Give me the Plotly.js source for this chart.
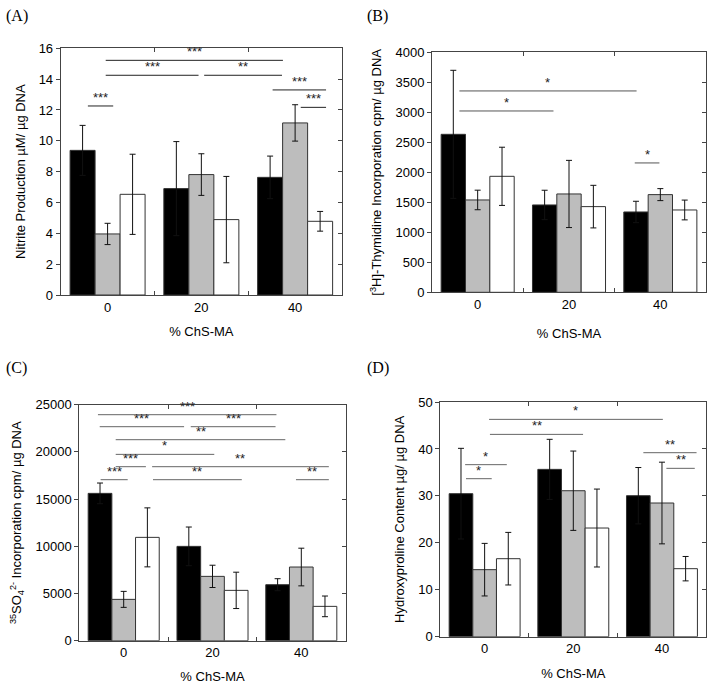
<!DOCTYPE html>
<html>
<head>
<meta charset="utf-8">
<script src="https://cdn.plot.ly/plotly-3.0.1.min.js"></script>
<style>html,body{margin:0;padding:0;background:#fff;}#chart{width:714px;height:684px;}</style>
</head>
<body>
<div id="chart"></div>
<script>
// ---------- data ----------
const categories = ['0', '20', '40'];

// (A) Nitrite production
const nitriteBlack = [9.38, 6.90, 7.63];
const nitriteBlackErr = [1.62, 3.05, 1.38];
const nitriteGray = [3.96, 7.81, 11.16];
const nitriteGrayErr = [0.69, 1.35, 1.18];
const nitriteWhite = [6.53, 4.89, 4.78];
const nitriteWhiteErr = [2.60, 2.80, 0.64];
// significance brackets: [from, to, level, label]
const nitriteSig = [
  [-0.21, 0.06, 12.26, '***'],
  [-0.02, 0.97, 14.25, '***'],
  [1.03, 1.86, 14.25, '**'],
  [-0.02, 1.87, 15.22, '***'],
  [1.76, 2.33, 13.30, '***'],
  [2.06, 2.33, 12.17, '***']
];

// (B) [3H]-Thymidine incorporation
const thymBlack = [2633, 1456, 1339];
const thymBlackErr = [1067, 245, 178];
const thymGray = [1539, 1639, 1628];
const thymGrayErr = [163, 560, 100];
const thymWhite = [1933, 1428, 1372];
const thymWhiteErr = [485, 355, 165];
const thymSig = [
  [-0.20, 1.74, 3356, '*'],
  [-0.20, 0.83, 3022, '*'],
  [1.72, 1.99, 2156, '*']
];

// (C) 35SO4 incorporation
const sulfBlack = [15607, 9993, 5932];
const sulfBlackErr = [1095, 2048, 636];
const sulfGray = [4379, 6815, 7804];
const sulfGrayErr = [848, 1180, 1995];
const sulfWhite = [10946, 5332, 3637];
const sulfWhiteErr = [3125, 1925, 1095];
const sulfSig = [
  [-0.29, 1.72, 23941, '***'],
  [-0.27, 0.68, 22670, '***'],
  [0.755, 1.71, 22670, '***'],
  [-0.09, 1.82, 21292, '**'],
  [-0.09, 1.02, 19739, '*'],
  [-0.09, 0.25, 18432, '***'],
  [0.32, 2.31, 18432, '**'],
  [-0.26, 0.045, 17055, '***'],
  [0.33, 1.33, 17055, '**'],
  [1.94, 2.31, 17055, '**']
];

// (D) Hydroxyproline content
const hydroxBlack = [30.47, 35.65, 30.04];
const hydroxBlackErr = [9.66, 6.40, 6.00];
const hydroxGray = [14.28, 31.10, 28.48];
const hydroxGrayErr = [5.60, 8.45, 8.70];
const hydroxWhite = [16.62, 23.15, 14.49];
const hydroxWhiteErr = [5.60, 8.30, 2.60];
const hydroxSig = [
  [0.05, 2.01, 46.3, '*'],
  [0.06, 1.11, 43.1, '**'],
  [-0.22, 0.25, 36.65, '*'],
  [-0.21, 0.08, 33.66, '*'],
  [1.79, 2.39, 39.2, '**'],
  [2.05, 2.37, 35.87, '**']
];

// ---------- build ----------
const FONT = 'Liberation Sans, Arial, sans-serif';
const SERIF = 'Liberation Serif, Times New Roman, serif';
const W = 714, H = 684;
const fills = ['#000000', '#bdbdbd', '#ffffff'];

const panels = [
  {vals: [nitriteBlack, nitriteGray, nitriteWhite], errs: [nitriteBlackErr, nitriteGrayErr, nitriteWhiteErr],
   sig: nitriteSig, range: [0, 16], dtick: 2, sigColor: '#222', xstand: 13,
   px: [60.7, 342], py: [48.3, 295], title: 'Nitrite Production µM/ µg DNA', label: '(A)', lx: 4, ly: 5},
  {vals: [thymBlack, thymGray, thymWhite], errs: [thymBlackErr, thymGrayErr, thymWhiteErr],
   sig: thymSig, range: [0, 4000], dtick: 500, sigColor: '#555', xstand: 17,
   px: [432, 706], py: [52.3, 292.3], title: '[<sup>3</sup>H]-Thymidine Incorporation cpm/ µg DNA', label: '(B)', lx: 365, ly: 5},
  {vals: [sulfBlack, sulfGray, sulfWhite], errs: [sulfBlackErr, sulfGrayErr, sulfWhiteErr],
   sig: sulfSig, range: [0, 25000], dtick: 5000, sigColor: '#666', xstand: 13,
   px: [79.3, 345.7], py: [404.7, 640.7], title: '<sup>35</sup>SO<sub>4</sub><sup>2-</sup> Incorporation cpm/ µg DNA', label: '(C)', lx: 4, ly: 357},
  {vals: [hydroxBlack, hydroxGray, hydroxWhite], errs: [hydroxBlackErr, hydroxGrayErr, hydroxWhiteErr],
   sig: hydroxSig, range: [0, 50], dtick: 10, sigColor: '#666', xstand: 13,
   px: [440.3, 706.3], py: [402, 636.7], title: 'Hydroxyproline Content µg/ µg DNA', label: '(D)', lx: 365, ly: 357}
];

const data = [];
const layout = {
  width: W, height: H,
  margin: {l: 0, r: 0, t: 0, b: 0},
  paper_bgcolor: '#fff', plot_bgcolor: '#fff',
  showlegend: false,
  barmode: 'group', bargap: 0.2, bargroupgap: 0,
  font: {family: FONT, size: 12, color: '#000'},
  shapes: [], annotations: []
};

panels.forEach((p, i) => {
  const n = i + 1;
  const xa = n === 1 ? 'x' : 'x' + n;
  const ya = n === 1 ? 'y' : 'y' + n;
  const yr = 'y' + (n + 4);
  for (let s = 0; s < 3; s++) {
    data.push({
      type: 'bar', x: categories, y: p.vals[s], xaxis: xa, yaxis: ya,
      marker: {color: fills[s], line: {color: '#333', width: 1}},
      error_y: {type: 'data', array: p.errs[s], visible: true, color: '#111', thickness: 1, width: 3},
      hoverinfo: 'skip'
    });
  }
  const xdom = [p.px[0] / W, p.px[1] / W];
  const ydom = [1 - p.py[1] / H, 1 - p.py[0] / H];
  layout['xaxis' + (n === 1 ? '' : n)] = {
    domain: xdom, anchor: ya, type: 'category', range: [-0.5, 2.5],
    tickson: 'boundaries', ticks: 'inside', ticklen: 4, tickcolor: '#444',
    showline: true, linecolor: '#444', linewidth: 1, mirror: 'ticks',
    showgrid: false, zeroline: false, fixedrange: true,
    tickfont: {family: FONT, size: 13},
    title: {text: '% ChS-MA', font: {family: FONT, size: 13}, standoff: p.xstand}
  };
  layout['yaxis' + (n === 1 ? '' : n)] = {
    domain: ydom, anchor: xa, range: p.range, dtick: p.dtick, tickformat: 'd',
    ticks: 'outside', ticklen: 4, tickcolor: '#444',
    showline: true, linecolor: '#444', linewidth: 1, mirror: true,
    showgrid: false, zeroline: false, fixedrange: true,
    tickfont: {family: FONT, size: 13},
    title: {text: p.title, font: {family: FONT, size: 13}, standoff: 10}
  };
  layout['yaxis' + (n + 4)] = {
    overlaying: ya, side: 'right', anchor: xa, range: p.range, dtick: p.dtick,
    ticks: 'inside', ticklen: 4, tickcolor: '#444', showticklabels: false,
    showline: false, showgrid: false, zeroline: false, fixedrange: true
  };
  // invisible trace so the right-side tick axis is drawn
  data.push({type: 'scatter', x: [categories[0]], y: [p.range[0]], xaxis: xa, yaxis: yr,
    mode: 'markers', marker: {opacity: 0}, hoverinfo: 'skip'});

  p.sig.forEach(b => {
    layout.shapes.push({type: 'line', xref: xa, yref: ya, x0: b[0], x1: b[1], y0: b[2], y1: b[2],
      line: {color: p.sigColor, width: 1}});
    layout.annotations.push({xref: xa, yref: ya, x: (b[0] + b[1]) / 2, y: b[2], text: b[3],
      showarrow: false, xanchor: 'center', yanchor: 'bottom', yshift: -1,
      font: {family: FONT, size: 13, color: '#222'}});
  });
  layout.annotations.push({xref: 'paper', yref: 'paper', x: p.lx / W, y: 1 - p.ly / H, text: p.label,
    showarrow: false, xanchor: 'left', yanchor: 'top', font: {family: SERIF, size: 16, color: '#000'}});
});

Plotly.newPlot('chart', data, layout, {displayModeBar: false, staticPlot: true});
</script>
</body>
</html>
